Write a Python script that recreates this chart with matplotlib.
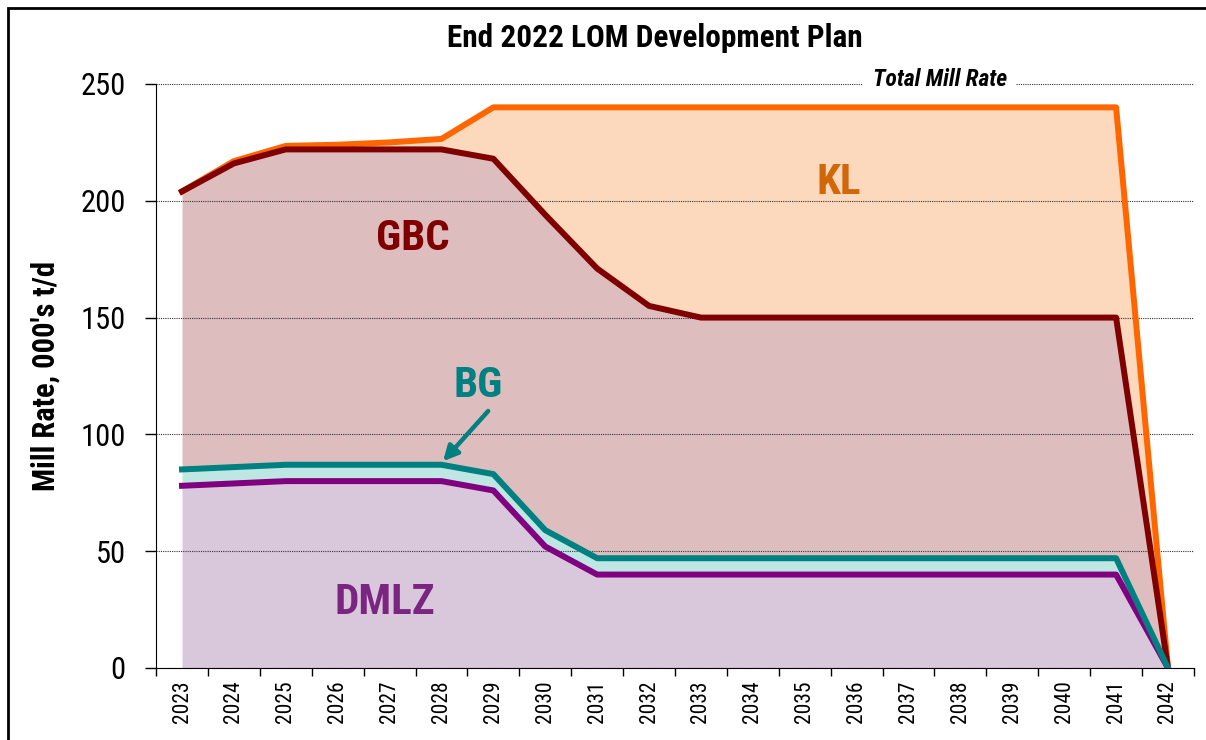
import numpy as np
import matplotlib.pyplot as plt
from matplotlib.patches import Rectangle

plt.rcParams['font.family'] = ['Roboto Condensed', 'DejaVu Sans']

# Years and mill rate per mine (000's t/d)
years = [str(y) for y in range(2023, 2043)]
dmlz = [78, 79, 80, 80, 80, 80, 76, 52, 40, 40, 40, 40, 40, 40, 40, 40, 40, 40, 40, 0]
bg = [7, 7, 7, 7, 7, 7, 7, 7, 7, 7, 7, 7, 7, 7, 7, 7, 7, 7, 7, 0]
gbc = [119, 130, 135, 135, 135, 135, 135, 135, 124, 108, 103, 103, 103, 103, 103, 103, 103, 103, 103, 0]
kl = [0, 1, 1.5, 2, 3, 4.5, 22, 46, 69, 85, 90, 90, 90, 90, 90, 90, 90, 90, 90, 0]

x = np.arange(len(years))
c1 = np.array(dmlz, dtype=float)
c2 = c1 + np.array(bg)
c3 = c2 + np.array(gbc)
c4 = c3 + np.array(kl)

fig = plt.figure(figsize=(12.06, 7.40), dpi=100)
ax = fig.add_axes([0.1294, 0.0973, 0.8606, 0.7892])

# filled bands
ax.fill_between(x, 0, c1, color='#D9C7DC', lw=0)
ax.fill_between(x, c1, c2, color='#BEE6E3', lw=0)
ax.fill_between(x, c2, c3, color='#DEBDBF', lw=0)
ax.fill_between(x, c3, c4, color='#FCD8BC', lw=0)

# boundary lines
ax.plot(x, c4, color='#FF6600', lw=4.3, zorder=3)
ax.plot(x, c3, color='#800000', lw=4.3, zorder=4)
ax.plot(x, c1, color='#800080', lw=4.3, zorder=4)
ax.plot(x, c2, color='#008080', lw=4.3, zorder=5)

ax.set_xlim(-0.5, len(years) - 0.5)
ax.set_ylim(0, 250)
ax.set_yticks([0, 50, 100, 150, 200, 250])
ax.tick_params(axis='y', labelsize=22, length=8, width=1, direction='out', pad=14)
ax.set_xticks(x)
ax.set_xticklabels(years, rotation=90, fontsize=15.5)
ax.set_xticks(np.arange(-0.5, len(years)), minor=True)
ax.tick_params(axis='x', which='major', length=0, pad=9)
ax.tick_params(axis='x', which='minor', length=6, width=1, direction='out')
ax.grid(axis='y', color='#333333', linestyle=(0, (1, 1)), linewidth=0.8)
ax.set_axisbelow(False)
for s in ['top', 'right']:
    ax.spines[s].set_visible(False)

ax.set_ylabel("Mill Rate, 000's t/d", fontsize=22, fontweight='bold', labelpad=14)
fig.text(0.543, 0.948, 'End 2022 LOM Development Plan', fontsize=22.5,
         fontweight='bold', ha='center', va='center')

ax.text(14.6, 252, 'Total Mill Rate', fontsize=17, fontweight='bold', style='italic',
        ha='center', va='center', zorder=6,
        bbox=dict(facecolor='white', edgecolor='none', pad=7))

ax.text(12.65, 208, 'KL', color='#D0680A', fontsize=31, fontweight='bold', ha='center', va='center')
ax.text(4.45, 184, 'GBC', color='#800000', fontsize=31, fontweight='bold', ha='center', va='center')
ax.text(3.9, 28, 'DMLZ', color='#7A2680', fontsize=31, fontweight='bold', ha='center', va='center')
ax.text(5.7, 121, 'BG', color='#008080', fontsize=31, fontweight='bold', ha='center', va='center')
ax.annotate('', xy=(5.03, 88.5), xytext=(5.9, 110),
            arrowprops=dict(arrowstyle='-|>', color='#008080', lw=3.2, mutation_scale=22,
                            shrinkA=0, shrinkB=0))

fig.patches.append(Rectangle((8 / 1206, -0.05), 1.2, 1.05 - 8 / 740,
                             transform=fig.transFigure, fill=False,
                             edgecolor='black', lw=2))

fig.savefig('out.png', dpi=100)
